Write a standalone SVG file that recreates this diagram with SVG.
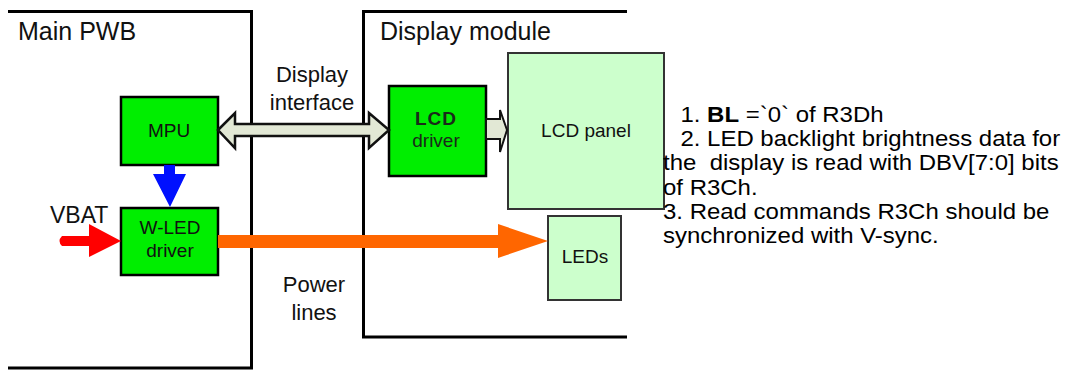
<svg xmlns="http://www.w3.org/2000/svg" width="1066" height="370" viewBox="0 0 1066 370">
<style>
text{font-family:"Liberation Sans",Arial,sans-serif;fill:#111}
.frame{fill:none;stroke:#000;stroke-width:3}
.blk{stroke:#000;stroke-width:2.5}
.g{fill:#00ee00}
.lg{fill:#ccffcc}
.lbl{font-size:19px;text-anchor:middle}
.big{font-size:22px;text-anchor:middle}
.note{font-size:22px;fill:#000;white-space:pre}
</style>
<rect width="1066" height="370" fill="#fff"/>
<g id="main-pwb">
<path class="frame" d="M8,11.5 H251.5 V368 H8"/>
<text x="18" y="40" font-size="25">Main PWB</text>
</g>
<g id="display-module">
<path class="frame" d="M627,11.5 H363.5 V337 H627"/>
<text x="380" y="40" font-size="25">Display module</text>
</g>
<g id="mpu">
<rect class="g blk" x="121" y="97" width="97" height="68"/>
<text class="lbl" x="169" y="137">MPU</text>
</g>
<g id="wled-driver">
<rect class="g blk" x="121" y="208" width="97" height="67"/>
<text class="lbl" x="170" y="234">W-LED</text>
<text class="lbl" x="170" y="257">driver</text>
</g>
<g id="lcd-driver">
<rect class="g blk" x="389" y="86" width="97" height="90"/>
<text class="lbl" x="436" y="125" font-weight="bold" letter-spacing="1" style="fill:#1a2a1a">LCD</text>
<text class="lbl" x="436" y="147" style="fill:#1a2a1a">driver</text>
</g>
<g id="lcd-panel">
<rect class="lg" x="508" y="53" width="156" height="156" stroke="#333" stroke-width="2"/>
<text class="lbl" x="586" y="137" font-size="20">LCD panel</text>
</g>
<g id="leds">
<rect class="lg" x="548" y="216" width="73" height="84" stroke="#333" stroke-width="2"/>
<text class="lbl" x="585" y="263">LEDs</text>
</g>
<g id="vbat">
<text x="50" y="223" font-size="23">VBAT</text>
</g>
<g id="connectors">
<path d="M218,130 L235,113 V124 H369 V113 L389,130 L369,148 V136 H235 V148 Z" fill="#e2e8d5" stroke="#111" stroke-width="2.5" stroke-linejoin="miter"/>
<path d="M486,119 H500 V110 L507,130 L500,152 V139 H486 Z" fill="#e2e8d5" stroke="#111" stroke-width="2"/>
<path d="M164,165 H175 V174 H186 L170,207 L153,174 H164 Z" fill="#0010ff"/>
<path d="M62,236 H89 V224 L121,241 L89,257 V246 H62 Q57,241 62,236 Z" fill="#ff0000"/>
<path d="M218,235 H498 V224 L548,241 L498,258 V248 H218 Z" fill="#ff6600"/>
</g>
<g id="labels">
<text class="big" x="312" y="82">Display</text>
<text class="big" x="312" y="110">interface</text>
<text class="big" x="314" y="292">Power</text>
<text class="big" x="314" y="320">lines</text>
</g>
<g id="notes" transform="translate(663,0) scale(1.09,1)">
<text class="note" x="16" y="122">1. <tspan font-weight="bold">BL</tspan> =`0` of R3Dh</text>
<text class="note" x="16" y="146">2. LED backlight brightness data for</text>
<text class="note" x="0" y="170">the  display is read with DBV[7:0] bits</text>
<text class="note" x="0" y="195">of R3Ch.</text>
<text class="note" x="0" y="219">3. Read commands R3Ch should be</text>
<text class="note" x="0" y="243">synchronized with V-sync.</text>
</g>
</svg>
